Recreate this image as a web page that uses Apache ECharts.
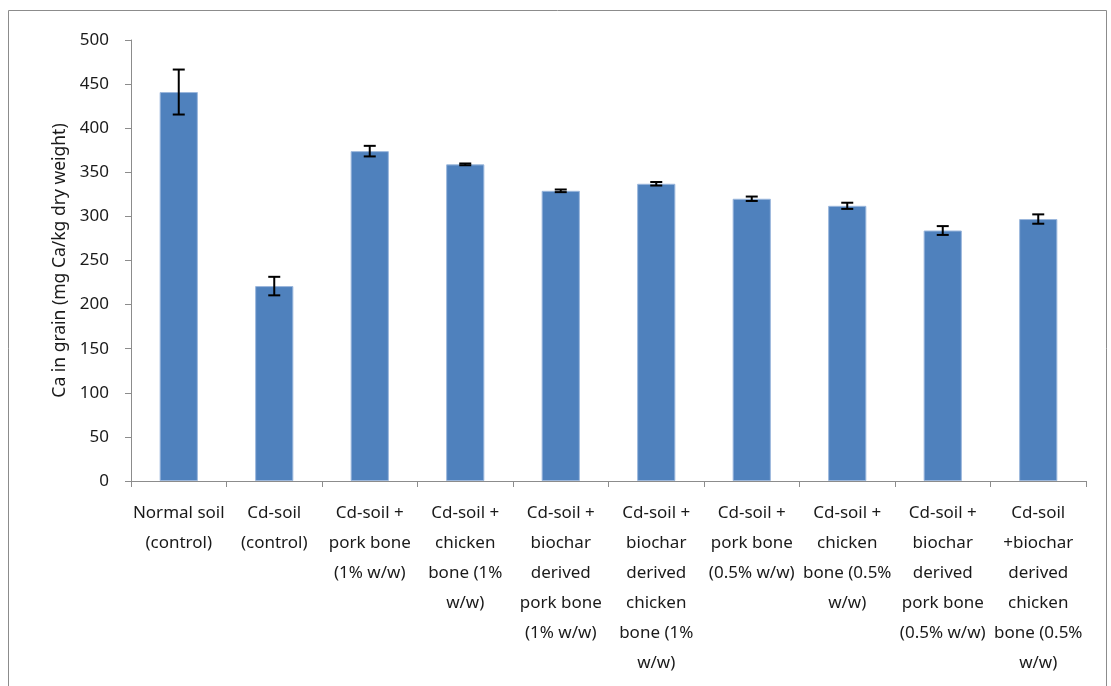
<!DOCTYPE html>
<html>
<head>
<meta charset="utf-8">
<script src="https://cdn.jsdelivr.net/npm/echarts@6/dist/echarts.min.js"></script>
<style>
html,body{margin:0;padding:0;background:#fff;}
#chart{width:1111px;height:686px;}
</style>
</head>
<body>
<div id="chart"></div>
<script>
const categories = [
  'Normal soil\n(control)',
  'Cd-soil\n(control)',
  'Cd-soil +\npork bone\n(1% w/w)',
  'Cd-soil +\nchicken\nbone (1%\nw/w)',
  'Cd-soil +\nbiochar\nderived\npork bone\n(1% w/w)',
  'Cd-soil +\nbiochar\nderived\nchicken\nbone (1%\nw/w)',
  'Cd-soil +\npork bone\n(0.5% w/w)',
  'Cd-soil +\nchicken\nbone (0.5%\nw/w)',
  'Cd-soil +\nbiochar\nderived\npork bone\n(0.5% w/w)',
  'Cd-soil\n+biochar\nderived\nchicken\nbone (0.5%\nw/w)'
];
const means = [441, 221, 374, 359, 329, 337, 320, 312, 284, 297];
const errors = [25.5, 10.5, 6, 1, 1.5, 2, 2.5, 3.5, 5, 5.3];
const yTicks = {min: 0, max: 500, interval: 50};
const yName = 'Ca in grain (mg Ca/kg dry weight)';

const chart = echarts.init(document.getElementById('chart'));
const font = '"Noto Sans", "DejaVu Sans", sans-serif';
chart.setOption({
  animation: false,
  backgroundColor: '#fff',
  graphic: [{
    type: 'rect',
    shape: {x: 8.5, y: 10.5, width: 1098, height: 690},
    style: {fill: 'none', stroke: '#8c8c8c', lineWidth: 1},
    silent: true
  }],
  grid: {left: 131, right: 25, top: 40, bottom: 205, containLabel: false},
  xAxis: {
    type: 'category',
    data: categories,
    axisLine: {lineStyle: {color: '#8c8c8c', width: 1}},
    axisTick: {show: true, length: 6, lineStyle: {color: '#8c8c8c'}},
    axisLabel: {
      interval: 0,
      color: '#1a1a1a',
      fontFamily: font,
      fontSize: 17,
      lineHeight: 30,
      margin: 17
    }
  },
  yAxis: {
    type: 'value',
    min: yTicks.min,
    max: yTicks.max,
    interval: yTicks.interval,
    name: yName,
    nameLocation: 'middle',
    nameGap: 62,
    nameTextStyle: {color: '#1a1a1a', fontFamily: font, fontSize: 17.5},
    axisLine: {show: true, lineStyle: {color: '#8c8c8c'}},
    axisTick: {show: true, length: 6, lineStyle: {color: '#8c8c8c'}},
    axisLabel: {color: '#1a1a1a', fontFamily: font, fontSize: 17, margin: 22},
    splitLine: {show: false}
  },
  series: [{
    type: 'bar',
    data: means,
    barWidth: '40%',
    itemStyle: {color: '#4f81bd', borderColor: '#9bb7dc', borderWidth: 1}
  }, {
    type: 'custom',
    data: means.map((m, i) => [i, m - errors[i], m + errors[i]]),
    z: 10,
    renderItem: function (params, api) {
      const x = api.value(0);
      const lo = api.coord([x, api.value(1)]);
      const hi = api.coord([x, api.value(2)]);
      const hw = 6;
      const st = {stroke: '#000', lineWidth: 2};
      return {
        type: 'group',
        children: [
          {type: 'line', shape: {x1: lo[0], y1: lo[1], x2: hi[0], y2: hi[1]}, style: st},
          {type: 'line', shape: {x1: lo[0] - hw, y1: lo[1], x2: lo[0] + hw, y2: lo[1]}, style: st},
          {type: 'line', shape: {x1: hi[0] - hw, y1: hi[1], x2: hi[0] + hw, y2: hi[1]}, style: st}
        ]
      };
    }
  }]
});
</script>
</body>
</html>
